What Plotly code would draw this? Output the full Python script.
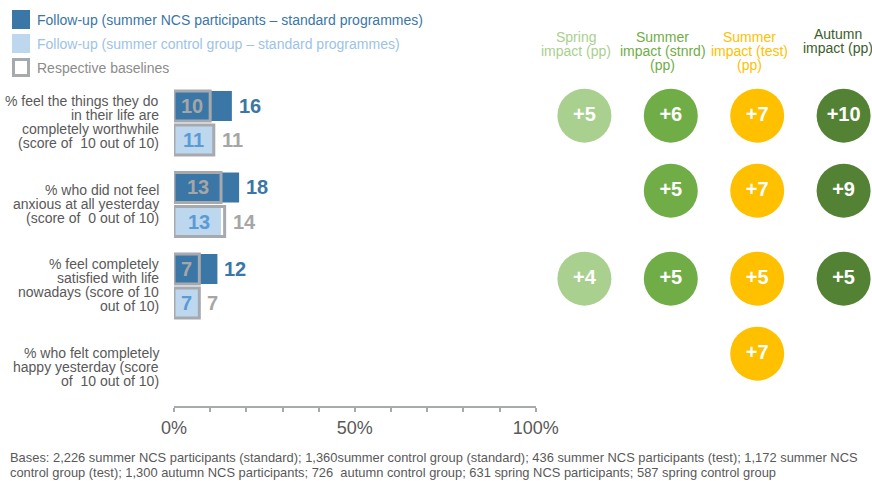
import plotly.graph_objects as go

W, H = 872, 481
FONT = "Liberation Sans, Arial, sans-serif"

# ---- data -------------------------------------------------------------
row_labels = [
    ["% feel the things they do", "in their life are", "completely worthwhile", "(score of  10 out of 10)"],
    ["% who did not feel", "anxious at all yesterday", "(score of  0 out of 10)"],
    ["% feel completely", "satisfied with life", "nowadays (score of 10", "out of 10)"],
    ["% who felt completely", "happy yesterday (score", "of  10 out of 10)"],
]
ncs_followup = [16, 18, 12, None]
ncs_baseline = [10, 13, 7, None]
control_followup = [11, 13, 7, None]
control_baseline = [11, 14, 7, None]

impact_headers = [
    ["Spring", "impact (pp)"],
    ["Summer", "impact (stnrd)", "(pp)"],
    ["Summer", "impact (test)", "(pp)"],
    ["Autumn", "impact (pp)"],
]
spring_impact = [5, None, 4, None]
summer_std_impact = [6, 5, 5, None]
summer_test_impact = [7, 7, 5, 7]
autumn_impact = [10, 9, 5, None]

x_ticks = [0, 50, 100]
x_tick_text = ["0%", "50%", "100%"]

legend_items = [
    "Follow-up (summer NCS participants \u2013 standard programmes)",
    "Follow-up (summer control group \u2013 standard programmes)",
    "Respective baselines",
]
footnote = [
    "Bases: 2,226 summer NCS participants (standard); 1,360summer control group (standard); 436 summer NCS participants (test); 1,172 summer NCS",
    "control group (test); 1,300 autumn NCS participants; 726  autumn control group; 631 spring NCS participants; 587 spring control group",
]

# ---- styling ----------------------------------------------------------
DARK_BLUE = "#3A76A6"
LIGHT_BLUE = "#BDD7EE"
MID_BLUE = "#5B9BD5"
LEGEND_LIGHT = "#9DC3E6"
BASE_GREY = "#A6AAAF"
LABEL_GREY = "#A6A6A6"
TEXT_GREY = "#595959"
impact_colors = ["#A9D08E", "#70AD47", "#FFC000", "#548235"]
header_colors = ["#A9D08E", "#70AD47", "#FFC000", "#3B5E2B"]


def px_x(p):
    return p / W


def px_y(p):
    return 1 - p / H


rows = list(range(len(row_labels)))
BAR_OFF = 0.209
BAR_W = 0.368
y_ncs = [r - BAR_OFF for r in rows]
y_ctl = [r + BAR_OFF for r in rows]

fig = go.Figure()

# follow-up bars, then baseline outlines drawn on top
fig.add_trace(go.Bar(x=ncs_followup, y=y_ncs, orientation="h", width=BAR_W,
                     marker=dict(color=DARK_BLUE, line=dict(width=0)),
                     hoverinfo="skip", showlegend=False))
fig.add_trace(go.Bar(x=ncs_baseline, y=y_ncs, orientation="h", width=BAR_W,
                     marker=dict(color="rgba(0,0,0,0)", line=dict(color=BASE_GREY, width=3)),
                     hoverinfo="skip", showlegend=False))
fig.add_trace(go.Bar(x=control_followup, y=y_ctl, orientation="h", width=BAR_W,
                     marker=dict(color=LIGHT_BLUE, line=dict(width=0)),
                     hoverinfo="skip", showlegend=False))
fig.add_trace(go.Bar(x=control_baseline, y=y_ctl, orientation="h", width=BAR_W,
                     marker=dict(color="rgba(0,0,0,0)", line=dict(color=BASE_GREY, width=3)),
                     hoverinfo="skip", showlegend=False))

annotations = []

# value labels on bars
for r in rows:
    if ncs_followup[r] is not None:
        annotations.append(dict(x=ncs_baseline[r] / 2, y=y_ncs[r], xref="x", yref="y",
                                text=f"<b>{ncs_baseline[r]}</b>", showarrow=False,
                                font=dict(size=20, color=LABEL_GREY, family=FONT)))
        annotations.append(dict(x=max(ncs_followup[r], ncs_baseline[r]), y=y_ncs[r], xref="x", yref="y",
                                text=f"<b>{ncs_followup[r]}</b>", showarrow=False, xanchor="left", xshift=5,
                                font=dict(size=20, color=DARK_BLUE, family=FONT)))
    if control_followup[r] is not None:
        annotations.append(dict(x=control_baseline[r] / 2, y=y_ctl[r], xref="x", yref="y",
                                text=f"<b>{control_followup[r]}</b>", showarrow=False,
                                font=dict(size=20, color=MID_BLUE, family=FONT)))
        annotations.append(dict(x=max(control_followup[r], control_baseline[r]), y=y_ctl[r], xref="x", yref="y",
                                text=f"<b>{control_baseline[r]}</b>", showarrow=False, xanchor="left", xshift=6,
                                font=dict(size=20, color=LABEL_GREY, family=FONT)))

# row labels, right-aligned with tight line spacing
LINE = 14
for r, lines in enumerate(row_labels):
    n = len(lines)
    for k, line in enumerate(lines):
        annotations.append(dict(x=px_x(161), y=r, xref="paper", yref="y", text=line,
                                showarrow=False, xanchor="right", yanchor="middle",
                                yshift=((n - 1) / 2 - k) * LINE + 1,
                                font=dict(size=14, color=TEXT_GREY, family=FONT)))

# impact circles
impacts = [spring_impact, summer_std_impact, summer_test_impact, autumn_impact]
circle_row_shift = [-0.09, -0.17, -0.09, -0.17]
for j, vals in enumerate(impacts):
    xs, ys, txt = [], [], []
    for r, v in enumerate(vals):
        if v is None:
            continue
        xs.append(j)
        ys.append(r + circle_row_shift[r])
        txt.append(f"<b>+{v}</b>")
    fig.add_trace(go.Scatter(x=xs, y=ys, xaxis="x2", yaxis="y", mode="markers+text",
                             text=txt, textposition="middle center",
                             textfont=dict(size=20, color="white", family=FONT),
                             marker=dict(size=54, color=impact_colors[j], line=dict(width=0)),
                             hoverinfo="skip", showlegend=False))

# column headers
header_top = [37, 37, 37, 34]
for j, lines in enumerate(impact_headers):
    for k, line in enumerate(lines):
        annotations.append(dict(x=j, y=px_y(header_top[j] + k * LINE), xref="x2", yref="paper",
                                text=line, showarrow=False, xanchor="center", yanchor="middle",
                                xshift=-8 if j < 3 else -6,
                                font=dict(size=14, color=header_colors[j], family=FONT)))

# legend
legend_top = [10, 34, 58]
shapes = []
for k, label in enumerate(legend_items):
    y0 = legend_top[k]
    if k < 2:
        shapes.append(dict(type="rect", xref="paper", yref="paper",
                           x0=px_x(12), x1=px_x(30), y0=px_y(y0), y1=px_y(y0 + 19),
                           fillcolor=[DARK_BLUE, LIGHT_BLUE][k], line=dict(width=0)))
    else:
        shapes.append(dict(type="rect", xref="paper", yref="paper",
                           x0=px_x(13.5), x1=px_x(28.5), y0=px_y(y0 + 1.5), y1=px_y(y0 + 17.5),
                           fillcolor="white", line=dict(color=BASE_GREY, width=3)))
    annotations.append(dict(x=px_x(35), y=px_y(y0 + 9.5), xref="paper", yref="paper",
                            text=label, showarrow=False, xanchor="left", yanchor="middle",
                            font=dict(size=14, color=[DARK_BLUE, LEGEND_LIGHT, "#8C8C8C"][k], family=FONT)))

# footnote
for k, line in enumerate(footnote):
    annotations.append(dict(x=px_x(8), y=px_y(457.5 + k * 15), xref="paper", yref="paper",
                            text=line, showarrow=False, xanchor="left", yanchor="middle",
                            font=dict(size=12.9, color=TEXT_GREY, family=FONT)))

# axis geometry: row 0 centre at 123 px, 81.5 px per row, axis line at 406 px
ROW0, ROWPX, AXIS_PX = 123, 81.5, 406
y_top = (0 - ROW0) / ROWPX
y_bot = (AXIS_PX - ROW0) / ROWPX

# impact columns: first circle centre at 584.4 px, 86.4 px apart
COL0, COLPX, COL_LEFT = 584.4, 86.4, 540
x2_lo = (COL_LEFT - COL0) / COLPX
x2_hi = (W - COL0) / COLPX

fig.update_layout(
    width=W, height=H, autosize=False,
    margin=dict(l=0, r=0, t=0, b=0, pad=0, autoexpand=False),
    paper_bgcolor="white", plot_bgcolor="rgba(0,0,0,0)",
    barmode="overlay",
    font=dict(family=FONT, color=TEXT_GREY),
    xaxis=dict(domain=[px_x(174), px_x(535.7)], range=[0, 100], anchor="y",
               showline=True, linecolor=BASE_GREY, linewidth=1.5,
               ticks="outside", ticklen=4, tickwidth=1.5, tickcolor=BASE_GREY,
               tickmode="array", tickvals=x_ticks, ticktext=x_tick_text,
               ticklabelstandoff=1, automargin=False,
               minor=dict(dtick=10, ticks="outside", ticklen=4, tickwidth=1.5, tickcolor=BASE_GREY),
               tickfont=dict(size=18, color=TEXT_GREY, family=FONT),
               showgrid=False, zeroline=False, fixedrange=True),
    yaxis=dict(domain=[px_y(AXIS_PX), 1], range=[y_bot, y_top], visible=False,
               automargin=False, showgrid=False, zeroline=False, fixedrange=True),
    xaxis2=dict(domain=[px_x(COL_LEFT), 1], anchor="y", range=[x2_lo, x2_hi], visible=False,
                automargin=False, showgrid=False, zeroline=False, fixedrange=True),
    annotations=annotations,
    shapes=shapes,
)

fig.write_html("out.html", config={"displayModeBar": False})
